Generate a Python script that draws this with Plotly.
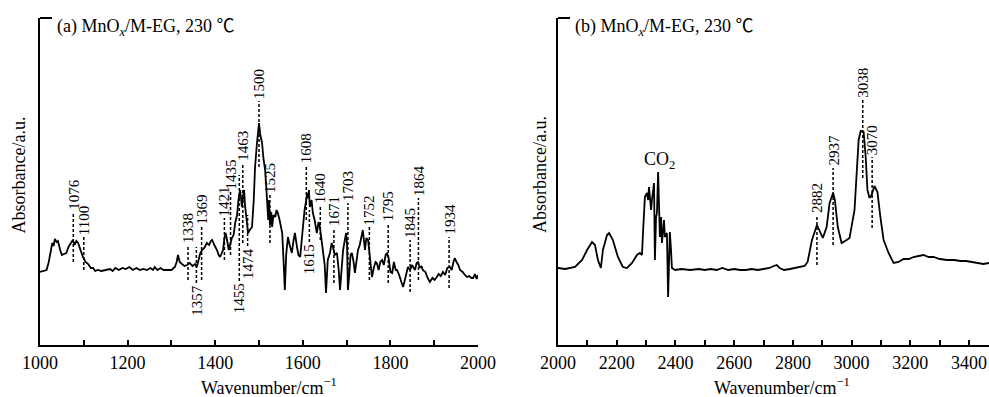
import plotly.graph_objects as go

# ---------------- data ----------------
left_wn = [1000, 1008, 1015, 1020, 1024, 1028, 1031, 1034, 1038, 1041, 1046, 1050, 1055, 1060, 1065,
           1070, 1075, 1079, 1083, 1087, 1092, 1098, 1104, 1110, 1116, 1121, 1126, 1132, 1140, 1150,
           1160, 1166, 1172, 1180, 1188, 1196, 1204, 1212, 1220, 1228, 1236, 1244, 1252, 1258, 1262,
           1268, 1275, 1282, 1290, 1300, 1308, 1312, 1315, 1319, 1324, 1330, 1336, 1342, 1348, 1354,
           1358, 1362, 1366, 1370, 1375, 1381, 1386, 1390, 1393, 1398, 1404, 1408, 1411, 1415, 1418,
           1421, 1424, 1427, 1431, 1435, 1438, 1442, 1446, 1450, 1453, 1457, 1459, 1461, 1463, 1466,
           1468, 1470, 1473, 1475, 1479, 1484, 1488, 1491, 1495, 1498, 1500, 1503, 1507, 1510, 1514,
           1517, 1519, 1521, 1523, 1525, 1528, 1530, 1533, 1537, 1540, 1543, 1547, 1550, 1553, 1556,
           1559, 1562, 1566, 1570, 1575, 1579, 1582, 1586, 1590, 1594, 1597, 1600, 1604, 1608, 1610,
           1612, 1614, 1616, 1620, 1623, 1627, 1632, 1636, 1639, 1643, 1646, 1650, 1653, 1657, 1662,
           1666, 1669, 1673, 1678, 1682, 1685, 1689, 1692, 1696, 1699, 1701, 1703, 1706, 1709, 1712,
           1716, 1719, 1723, 1726, 1730, 1734, 1737, 1740, 1742, 1745, 1749, 1752, 1755, 1758, 1762,
           1766, 1769, 1773, 1777, 1781, 1785, 1789, 1792, 1796, 1800, 1804, 1808, 1812, 1815, 1820,
           1825, 1829, 1833, 1837, 1840, 1845, 1849, 1852, 1856, 1860, 1863, 1867, 1871, 1874, 1880,
           1885, 1890, 1896, 1901, 1906, 1910, 1915, 1920, 1925, 1930, 1936, 1940, 1944, 1947, 1951,
           1955, 1959, 1965, 1970, 1975, 1980, 1985, 1989, 1993, 1997, 2000]
left_abs = [73, 74, 75, 83, 95, 102, 99, 106, 103, 104, 95, 90, 91, 92, 98,
            101, 105, 100, 104, 102, 95, 88, 83, 81, 77, 77, 74, 75, 74, 75,
            76, 74, 77, 75, 77, 76, 78, 75, 77, 75, 76, 75, 77, 75, 78,
            75, 77, 75, 75, 75, 78, 83, 90, 83, 81, 79, 80, 82, 79, 81,
            78, 85, 92, 95, 97, 102, 100, 104, 105, 100, 95, 90, 88, 92, 95,
            107, 112, 105, 95, 102, 107, 110, 123, 130, 145, 155, 145, 138, 147, 155,
            140, 132, 120, 112, 115, 118, 145, 178, 200, 215, 222, 210, 202, 187, 175,
            155, 130, 125, 145, 120, 133, 118, 130, 128, 135, 132, 125, 117, 112, 85,
            55, 90, 108, 100, 92, 105, 112, 100, 90, 88, 105, 118, 135, 145, 152,
            147, 155, 138, 145, 132, 125, 112, 123, 118, 105, 98, 80, 52, 85, 92,
            102, 98, 90, 92, 75, 55, 80, 95, 105, 112, 100, 55, 70, 90, 92,
            83, 72, 87, 95, 100, 110, 115, 103, 95, 107, 105, 93, 77, 68, 77,
            83, 82, 75, 83, 85, 80, 90, 92, 87, 73, 72, 83, 75, 75, 70,
            63, 58, 65, 73, 78, 75, 80, 78, 75, 82, 83, 77, 79, 75, 73,
            67, 63, 67, 65, 68, 71, 69, 73, 70, 77, 78, 75, 83, 87, 83,
            80, 75, 73, 70, 68, 69, 67, 67, 71, 66, 70]

right_wn = [2000, 2024, 2058, 2082, 2099, 2116, 2126, 2136, 2146, 2153, 2167, 2174, 2187, 2204, 2221,
            2235, 2252, 2269, 2279, 2286, 2290, 2296, 2303, 2307, 2310, 2317, 2320, 2327, 2330, 2334,
            2337, 2341, 2347, 2351, 2354, 2361, 2364, 2371, 2375, 2381, 2385, 2388, 2399, 2420, 2450,
            2480, 2500, 2520, 2540, 2560, 2580, 2600, 2620, 2640, 2660, 2680, 2700, 2720, 2735, 2745,
            2755, 2770, 2790, 2810, 2830, 2840, 2850, 2865, 2882, 2892, 2902, 2915, 2925, 2937, 2943,
            2953, 2966, 2983, 2993, 3010, 3017, 3024, 3031, 3041, 3048, 3054, 3061, 3068, 3078, 3088,
            3098, 3109, 3126, 3143, 3160, 3177, 3195, 3211, 3228, 3245, 3262, 3279, 3300, 3326, 3350,
            3371, 3390, 3415, 3430, 3449, 3468]
right_abs = [77, 76, 78, 85, 95, 103, 100, 85, 77, 95, 110, 112, 105, 88, 78,
             77, 82, 90, 92, 90, 115, 148, 152, 145, 158, 135, 145, 162, 85, 128,
             132, 173, 108, 128, 102, 125, 108, 112, 48, 113, 95, 77, 75, 76, 75,
             76, 75, 76, 75, 77, 75, 76, 75, 75, 76, 75, 76, 77, 79, 80,
             77, 75, 76, 77, 78, 79, 83, 105, 120, 113, 107, 118, 142, 152, 145,
             118, 102, 105, 107, 135, 168, 205, 214, 213, 188, 155, 147, 150, 159, 153,
             128, 105, 92, 82, 83, 86, 86, 88, 89, 90, 88, 88, 86, 85, 85,
             84, 84, 83, 82, 81, 82]

left_peaks = [1076, 1100, 1338, 1357, 1369, 1421, 1435, 1455, 1463, 1474, 1500, 1525,
              1608, 1615, 1640, 1671, 1703, 1752, 1795, 1845, 1864, 1934]
left_peak_lo = [83, 75, 65, 62, 65, 85, 90, 64, 102, 99, 178, 102,
                125, 103, 105, 62, 55, 65, 62, 53, 65, 57]
left_peak_hi = [133, 108, 100, 98, 118, 127, 153, 170, 182, 130, 244, 150,
                180, 135, 140, 117, 142, 118, 122, 105, 147, 108]
left_peak_side = ["up", "up", "up", "down", "up", "up", "up", "down", "up", "down", "up", "up",
                  "up", "down", "up", "up", "up", "up", "up", "up", "up", "up"]

right_peaks = [2882, 2937, 3038, 3070]
right_peak_lo = [80, 100, 167, 117]
right_peak_hi = [130, 177, 245, 188]
right_peak_side = ["up", "up", "up", "up"]

# ---------------- figure ----------------
FONT = "Liberation Serif"
W, H = 989, 397

fig = go.Figure()

fig.add_trace(go.Scatter(x=left_wn, y=left_abs, mode="lines",
                         line=dict(color="black", width=1.8), xaxis="x", yaxis="y",
                         showlegend=False, hoverinfo="skip"))
fig.add_trace(go.Scatter(x=right_wn, y=right_abs, mode="lines",
                         line=dict(color="black", width=1.8), xaxis="x2", yaxis="y2",
                         showlegend=False, hoverinfo="skip"))


def dashed(peaks, lo, hi, xa, ya):
    xs, ys = [], []
    for p, a, b in zip(peaks, lo, hi):
        xs += [p, p, None]
        ys += [a, b, None]
    return go.Scatter(x=xs, y=ys, mode="lines", xaxis=xa, yaxis=ya,
                      line=dict(color="black", width=1.5, dash="3px,2px"),
                      showlegend=False, hoverinfo="skip")


fig.add_trace(dashed(left_peaks, left_peak_lo, left_peak_hi, "x", "y"))
fig.add_trace(dashed(right_peaks, right_peak_lo, right_peak_hi, "x2", "y2"))

annotations = []


def peak_labels(peaks, lo, hi, side, xref, yref):
    for p, a, b, s in zip(peaks, lo, hi, side):
        if s == "up":
            annotations.append(dict(x=p, y=b, xref=xref, yref=yref, text=str(p), showarrow=False,
                                    textangle=-90, xanchor="center", yanchor="bottom",
                                    font=dict(family=FONT, size=15, color="black")))
        else:
            annotations.append(dict(x=p, y=a, xref=xref, yref=yref, text=str(p), showarrow=False,
                                    textangle=-90, xanchor="center", yanchor="top",
                                    font=dict(family=FONT, size=15, color="black")))


peak_labels(left_peaks, left_peak_lo, left_peak_hi, left_peak_side, "x", "y")
peak_labels(right_peaks, right_peak_lo, right_peak_hi, right_peak_side, "x2", "y2")

tfont = dict(family=FONT, size=18, color="black")
deg = '<span style="font-family:Noto Sans CJK SC">℃</span>'
# panel titles
annotations.append(dict(x=55 / W, y=1 - 25 / H, xref="paper", yref="paper", showarrow=False,
                        xanchor="left", yanchor="middle", font=tfont,
                        text="(a) MnO<sub><i>x</i></sub>/M-EG, 230 " + deg))
annotations.append(dict(x=573 / W, y=1 - 25 / H, xref="paper", yref="paper", showarrow=False,
                        xanchor="left", yanchor="middle", font=tfont,
                        text="(b) MnO<sub><i>x</i></sub>/M-EG, 230 " + deg))
# axis titles
for xc in (18.5, 540):
    annotations.append(dict(x=xc / W, y=1 - 175 / H, xref="paper", yref="paper", showarrow=False,
                            textangle=-90, xanchor="center", yanchor="middle", font=tfont,
                            text="Absorbance/a.u."))
for xc in (269, 782):
    annotations.append(dict(x=xc / W, y=1 - 386 / H, xref="paper", yref="paper", showarrow=False,
                            xanchor="center", yanchor="middle", font=tfont,
                            text="Wavenumber/cm<sup>−1</sup>"))
# CO2 label
annotations.append(dict(x=2344, y=185, xref="x2", yref="y2", showarrow=False,
                        xanchor="center", yanchor="middle", font=tfont, text="CO<sub>2</sub>"))

ydom = [1 - 345 / H, 1 - 18 / H]
xcommon = dict(showline=True, linecolor="black", linewidth=2, ticks="inside", ticklen=5,
               tickwidth=1.5, tickcolor="black", showgrid=False, zeroline=False,
               tickfont=tfont, mirror=False, automargin=False)
ycommon = dict(showline=True, linecolor="black", linewidth=2, ticks="", showticklabels=False,
               showgrid=False, zeroline=False, range=[0, 327], domain=ydom, automargin=False)

fig.update_layout(
    width=W, height=H,
    margin=dict(l=0, r=0, t=0, b=0, autoexpand=False),
    paper_bgcolor="white", plot_bgcolor="white",
    xaxis=dict(domain=[40 / W, 478 / W], range=[1000, 2000], dtick=200, tick0=1000,
               minor=dict(dtick=100, ticks="inside", ticklen=5, tickwidth=1.5, tickcolor="black"),
               anchor="y", **xcommon),
    yaxis=dict(anchor="x", **ycommon),
    xaxis2=dict(domain=[558 / W, 1.0], range=[2000, 3468], dtick=200, tick0=2000,
                minor=dict(dtick=100, ticks="inside", ticklen=5, tickwidth=1.5, tickcolor="black"),
                anchor="y2", **xcommon),
    yaxis2=dict(anchor="x2", **ycommon),
    annotations=annotations,
    shapes=[
        dict(type="line", xref="x domain", yref="y domain", x0=0, x1=12 / 438, y0=1, y1=1,
             line=dict(color="black", width=2)),
        dict(type="line", xref="x2 domain", yref="y2 domain", x0=0, x1=12 / 431, y0=1, y1=1,
             line=dict(color="black", width=2)),
    ],
)

fig.write_html("out.html", config={"displayModeBar": False},
               post_script="document.body.style.margin='0';document.body.style.overflow='hidden';")
